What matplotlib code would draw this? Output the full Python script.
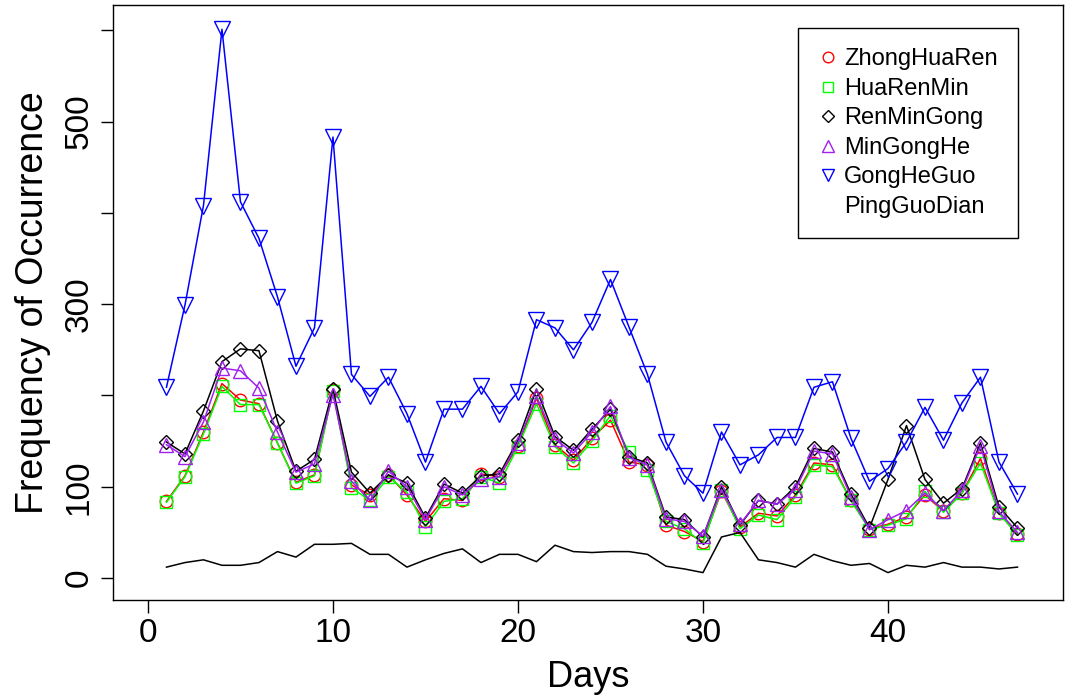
import matplotlib
matplotlib.use("Agg")
import matplotlib.pyplot as plt
from matplotlib.lines import Line2D

plt.rcParams['font.family'] = ['Liberation Sans', 'DejaVu Sans']

days = list(range(1, 48))

zhong_hua_ren = [84, 112, 160, 213, 195, 191, 148, 105, 113, 206,
                 102, 91, 113, 91, 62, 87, 85, 114, 111, 145,
                 197, 146, 129, 153, 173, 127, 124, 58, 51, 40,
                 95, 56, 71, 68, 91, 126, 124, 85, 54, 59,
                 67, 91, 73, 93, 131, 71, 48]
hua_ren_min = [83, 111, 158, 210, 190, 190, 148, 104, 112, 205,
               99, 85, 111, 94, 56, 84, 87, 111, 104, 144,
               191, 144, 126, 150, 178, 138, 118, 62, 54, 38,
               97, 54, 69, 64, 89, 124, 122, 85, 53, 58,
               65, 95, 72, 93, 126, 71, 47]
ren_min_gong = [149, 136, 183, 237, 251, 249, 172, 117, 130, 207,
                116, 93, 113, 104, 66, 103, 93, 112, 114, 151,
                207, 155, 140, 163, 185, 133, 126, 67, 64, 45,
                100, 58, 85, 81, 100, 142, 138, 92, 55, 108,
                167, 108, 82, 98, 148, 78, 55]
min_gong_he = [146, 133, 171, 230, 227, 208, 160, 116, 125, 201,
               106, 85, 117, 100, 64, 100, 91, 108, 111, 148,
               199, 152, 137, 160, 188, 132, 124, 65, 62, 46,
               97, 59, 85, 81, 97, 139, 136, 89, 53, 64,
               74, 93, 74, 96, 145, 73, 50]
gong_he_guo = [209, 299, 408, 601, 412, 372, 308, 232, 274, 483,
               223, 199, 220, 180, 127, 185, 185, 210, 180, 204,
               283, 274, 250, 280, 327, 275, 223, 149, 112, 93,
               160, 124, 135, 154, 154, 209, 215, 153, 106, 120,
               149, 187, 151, 192, 220, 127, 92]
ping_guo_dian = [12, 17, 20, 14, 14, 17, 29, 23, 37, 37,
                 38, 26, 26, 12, 20, 27, 32, 17, 26, 26,
                 18, 36, 29, 28, 29, 29, 26, 13, 10, 6,
                 45, 50, 20, 17, 12, 26, 19, 14, 16, 6,
                 14, 12, 17, 12, 12, 10, 12]

names = ['ZhongHuaRen', 'HuaRenMin', 'RenMinGong', 'MinGongHe', 'GongHeGuo', 'PingGuoDian']
colors = ['#FF0000', '#00FF00', '#000000', '#A020F0', '#0000FF', '#000000']
markers = ['o', 's', 'D', '^', 'v', None]
sizes = [9, 8, 7.5, 10, 11, 0]
series = [zhong_hua_ren, hua_ren_min, ren_min_gong, min_gong_he, gong_he_guo, ping_guo_dian]

fig = plt.figure(figsize=(10.68, 6.95), dpi=100)
ax = fig.add_axes([113/1068, 95/695, 950/1068, 595/695])

for vals, c, m, s in zip(series, colors, markers, sizes):
    ax.plot(days, vals, color=c, lw=1.1, marker=m, ms=s,
            mfc='none', mec=c, mew=1.0)

ax.set_xlim(-1.89, 49.46)
ax.set_ylim(-24, 627.6)

ax.set_xticks([0, 10, 20, 30, 40])
ax.set_yticks([0, 100, 200, 300, 400, 500, 600])
ax.set_yticklabels(['0', '100', '', '300', '', '500', ''], rotation=90, va='center')
ax.tick_params(direction='out', length=9, width=1, labelsize=24, pad=4)

for sp in ax.spines.values():
    sp.set_linewidth(1.0)

ax.set_xlabel('Days', fontsize=26, labelpad=8)
ax.set_ylabel('Frequency of Occurrence', fontsize=27, labelpad=9)

handles = []
for c, m, s in zip(colors, markers, sizes):
    handles.append(Line2D([], [], linestyle='none', marker=m, color=c,
                          mfc='none', mec=c, ms=s * 0.85, mew=1.0))
leg = ax.legend(handles, names, loc='upper right', bbox_to_anchor=(0.9526, 0.961),
                fontsize=17, frameon=True, fancybox=False, edgecolor='black',
                framealpha=1, borderpad=0.85, labelspacing=0.32, handlelength=0.8,
                handletextpad=0.3, borderaxespad=0)
leg.get_frame().set_linewidth(1.0)

fig.savefig('out.png', dpi=100)
